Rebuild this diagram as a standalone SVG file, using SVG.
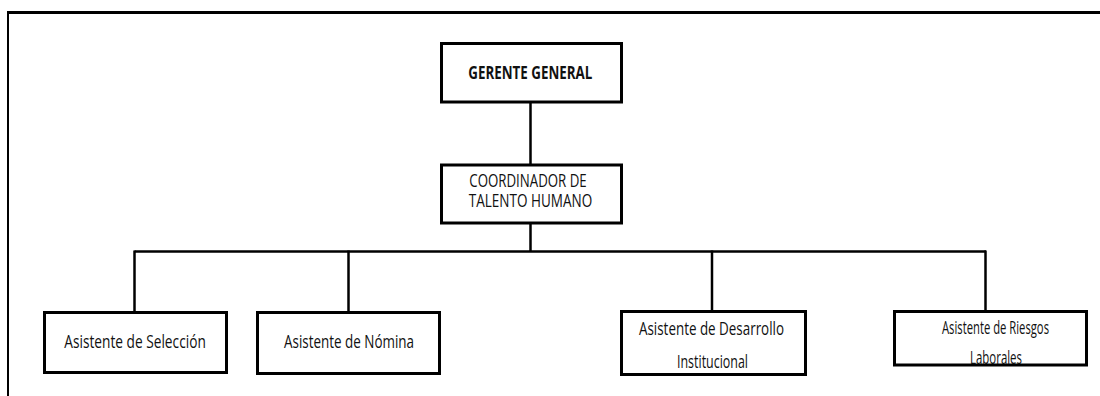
<svg xmlns="http://www.w3.org/2000/svg" width="1100" height="396" viewBox="0 0 1100 396">
  <style>
    .box { fill: #ffffff; stroke: #000000; stroke-width: 3; }
    .wire { fill: none; stroke: #000000; stroke-width: 2.5; }
    .frame { fill: none; stroke: #000000; }
    .lbl { font-family: "Open Sans", "Liberation Sans", sans-serif; font-size: 19px; fill: #111111; }
    .bold { font-weight: bold; font-size: 18px; }
  </style>
  <rect x="0" y="0" width="1100" height="396" fill="#ffffff"/>

  <!-- page frame -->
  <g id="frame">
    <line class="frame" x1="7" y1="12.5" x2="1100" y2="12.5" stroke-width="3"/>
    <line class="frame" x1="8" y1="11" x2="8" y2="396" stroke-width="2"/>
  </g>

  <!-- connectors -->
  <g id="connectors">
    <line class="wire" x1="530.5" y1="103" x2="530.5" y2="165"/>
    <line class="wire" x1="530.5" y1="224" x2="530.5" y2="251.5"/>
    <line class="wire" x1="134.5" y1="251.5" x2="986" y2="251.5"/>
    <line class="wire" x1="134.5" y1="250.5" x2="134.5" y2="312"/>
    <line class="wire" x1="348.5" y1="250.5" x2="348.5" y2="312"/>
    <line class="wire" x1="712" y1="250.5" x2="712" y2="311"/>
    <line class="wire" x1="985.5" y1="250.5" x2="985.5" y2="311"/>
  </g>

  <g id="gerente-general">
    <rect class="box" x="441.5" y="43.5" width="180" height="58.5"/>
    <text class="lbl bold" x="468.3" y="78.5" textLength="124" lengthAdjust="spacingAndGlyphs">GERENTE GENERAL</text>
  </g>

  <g id="coordinador">
    <rect class="box" x="441.5" y="165" width="180" height="58"/>
    <text class="lbl" x="469.3" y="187.3" textLength="117.4" lengthAdjust="spacingAndGlyphs">COORDINADOR DE</text>
    <text class="lbl" x="468.7" y="206.7" textLength="123.6" lengthAdjust="spacingAndGlyphs">TALENTO HUMANO</text>
  </g>

  <g id="asistente-seleccion">
    <rect class="box" x="44.5" y="312.5" width="182" height="60"/>
    <text class="lbl" x="64.3" y="348" textLength="141.5" lengthAdjust="spacingAndGlyphs">Asistente de Selección</text>
  </g>

  <g id="asistente-nomina">
    <rect class="box" x="257.5" y="312.5" width="182" height="61"/>
    <text class="lbl" x="284" y="348" textLength="130" lengthAdjust="spacingAndGlyphs">Asistente de Nómina</text>
  </g>

  <g id="asistente-desarrollo">
    <rect class="box" x="621.5" y="311.5" width="184" height="63"/>
    <text class="lbl" x="639" y="335" textLength="145" lengthAdjust="spacingAndGlyphs">Asistente de Desarrollo</text>
    <text class="lbl" x="677" y="368" textLength="71" lengthAdjust="spacingAndGlyphs">Institucional</text>
  </g>

  <g id="asistente-riesgos">
    <rect class="box" x="894.5" y="311.5" width="192" height="53.5"/>
    <text class="lbl" x="942" y="334" textLength="107" lengthAdjust="spacingAndGlyphs">Asistente de Riesgos</text>
    <text class="lbl" x="970" y="364" textLength="52" lengthAdjust="spacingAndGlyphs">Laborales</text>
  </g>
</svg>
